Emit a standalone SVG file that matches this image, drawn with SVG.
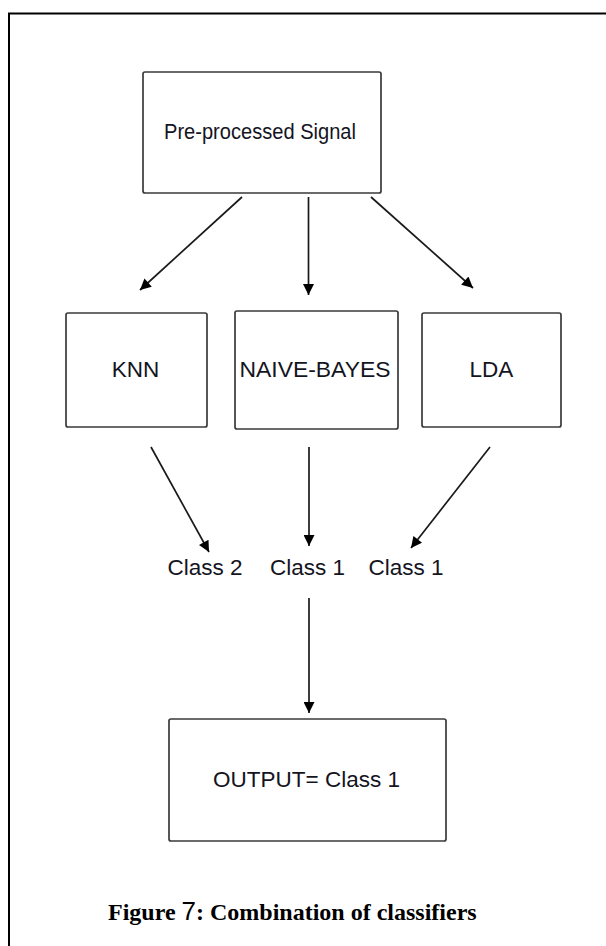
<svg xmlns="http://www.w3.org/2000/svg" width="606" height="946" viewBox="0 0 606 946">
<defs>
<style>
.box{fill:#fff;stroke:#3a3a3a;stroke-width:1.7}
.lbl{font-family:"Liberation Sans",Arial,sans-serif;font-size:22.5px;fill:#14141e;text-anchor:middle}
.cn{stroke:#1a1a1a;stroke-width:1.7;fill:none;marker-end:url(#ah)}
.cap{font-family:"Liberation Serif","Times New Roman",serif;font-size:24px;font-weight:bold;fill:#000}
</style>
<marker id="ah" viewBox="0 0 10 10" refX="10" refY="5" markerWidth="13" markerHeight="11" markerUnits="userSpaceOnUse" orient="auto">
<path d="M0,0 L10,5 L0,10 z" fill="#000"/>
</marker>
</defs>
<rect width="606" height="946" fill="#fff"/>
<g id="frame">
<path d="M9,946 L9,13.5 L606,13.5" fill="none" stroke="#000" stroke-width="2"/>
</g>
<g id="node-preprocessed">
<rect class="box" x="143" y="72" width="238" height="121" rx="2"/>
<text class="lbl" x="260" y="139" textLength="192" lengthAdjust="spacingAndGlyphs">Pre-processed Signal</text>
</g>
<g id="node-knn">
<rect class="box" x="66" y="313" width="141" height="114" rx="2"/>
<text class="lbl" x="135.5" y="377">KNN</text>
</g>
<g id="node-naivebayes">
<rect class="box" x="235" y="311" width="163" height="118" rx="2"/>
<text class="lbl" x="315" y="377" textLength="151" lengthAdjust="spacingAndGlyphs">NAIVE-BAYES</text>
</g>
<g id="node-lda">
<rect class="box" x="422" y="313" width="139" height="114" rx="2"/>
<text class="lbl" x="491.5" y="377">LDA</text>
</g>
<g id="node-class2">
<text class="lbl" x="205" y="575">Class 2</text>
</g>
<g id="node-class1-mid">
<text class="lbl" x="307.5" y="575">Class 1</text>
</g>
<g id="node-class1-right">
<text class="lbl" x="406" y="575">Class 1</text>
</g>
<g id="node-output">
<rect class="box" x="169" y="719" width="277" height="122" rx="2"/>
<text class="lbl" x="306.5" y="787">OUTPUT= Class 1</text>
</g>
<g id="connectors">
<path class="cn" d="M242,197 L140,290"/>
<path class="cn" d="M308.5,197 L308.5,295"/>
<path class="cn" d="M371,197 L473,288"/>
<path class="cn" d="M151,447 L209,552"/>
<path class="cn" d="M309,447 L309,546"/>
<path class="cn" d="M490,447 L411,548"/>
<path class="cn" d="M309,598 L309,713"/>
</g>
<g id="caption">
<text class="cap" x="108" y="920">Figure <tspan font-family="Liberation Sans,Arial,sans-serif" font-weight="normal" font-size="26px">7</tspan>: Combination of classifiers</text>
</g>
</svg>
